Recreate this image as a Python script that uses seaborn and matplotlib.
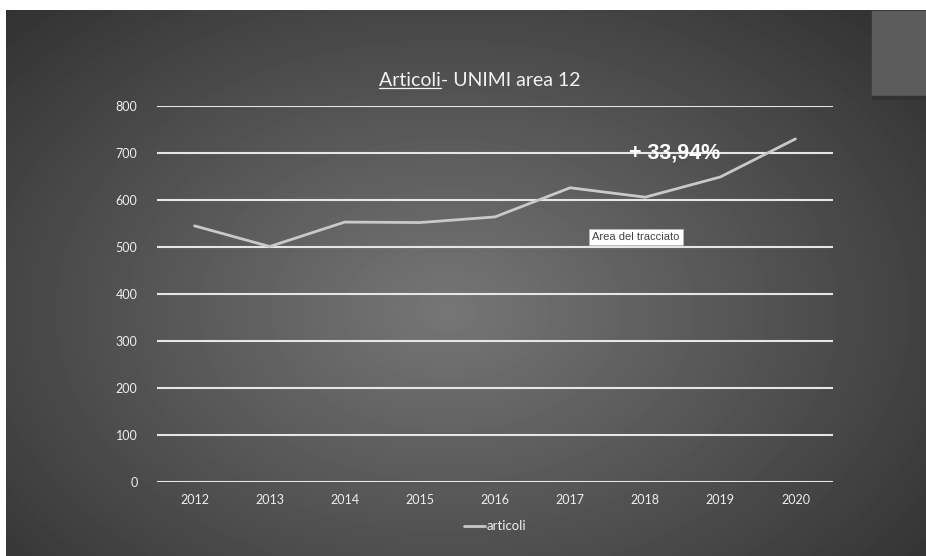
import numpy as np
import pandas as pd
import matplotlib
matplotlib.use("Agg")
import matplotlib.pyplot as plt
import seaborn as sns

years = ["2012", "2013", "2014", "2015", "2016", "2017", "2018", "2019", "2020"]
articoli = [545, 501, 553, 552, 564, 626, 606, 649, 730]
y_ticks = [0, 100, 200, 300, 400, 500, 600, 700, 800]
title_text = "Articoli- UNIMI area 12"
growth_label = "+ 33,94%"
tooltip_label = "Area del tracciato"
series_name = "articoli"

df = pd.DataFrame({"anno": years, series_name: articoli})

sns.set_theme(style="white")
plt.rcParams["font.family"] = ["Lato", "DejaVu Sans"]

W, H = 926, 556
fig = plt.figure(figsize=(W / 100, H / 100), dpi=100)
fig.patch.set_facecolor("white")

# slide background: dark radial gradient inside a thin white frame
bg = fig.add_axes([6 / W, 0, 1 - 6 / W, 1 - 10 / H])
bg.set_axis_off()
yy, xx = np.mgrid[0:546, 0:920]
r = np.sqrt(((xx - 440) / 650.0) ** 2 + ((yy - 300) / 450.0) ** 2)
shade = np.clip(118 - 72 * r, 50, 120) / 255.0
bg.imshow(shade, cmap="gray", vmin=0, vmax=1, aspect="auto", interpolation="bilinear")
bg.add_patch(plt.Rectangle((865, 0), 60, 85, color="#5c5c5c", zorder=3))
bg.add_patch(plt.Rectangle((865, 85), 60, 3, color="#333333", zorder=3))

ax = fig.add_axes([157 / W, (H - 482) / H, 676 / W, 376 / H])
ax.patch.set_alpha(0)
sns.lineplot(data=df, x="anno", y=series_name, ax=ax, color="#c9c9c9",
             linewidth=2.0, label=series_name, sort=False)
ax.set_xlim(-0.5, len(years) - 0.5)
ax.set_ylim(0, 800)
ax.set_yticks(y_ticks)
ax.set_yticklabels([str(v) for v in y_ticks])
for v in y_ticks:
    ax.axhline(v, color="#e6e6e6", linewidth=1.5, zorder=1)
for s in ax.spines.values():
    s.set_visible(False)
ax.set_xlabel("")
ax.set_ylabel("")
ax.tick_params(axis="both", length=0, colors="#eeeeee", labelsize=9)
ax.tick_params(axis="y", pad=14)
ax.tick_params(axis="x", pad=9)

leg = ax.legend(loc="upper center", bbox_to_anchor=(0.5, -0.07), frameon=False,
                fontsize=9.5, handlelength=1.6, handletextpad=0.1)
for t in leg.get_texts():
    t.set_color("#eeeeee")

# title with underlined first word
title = fig.text(480 / W, 1 - 80 / H, title_text, ha="center", va="center",
                 color="#f2f2f2", fontsize=14)
fig.canvas.draw()
rend = fig.canvas.get_renderer()
tb = title.get_window_extent(rend)
tmp = fig.text(0, 0, "Articoli", fontsize=14)
wb = tmp.get_window_extent(rend)
tmp.remove()
fig.add_artist(plt.Line2D([tb.x0 / W, (tb.x0 + wb.width) / W],
                          [(tb.y0 + 1) / H, (tb.y0 + 1) / H],
                          color="#f2f2f2", linewidth=0.9))

fig.text(675 / W, 1 - 153 / H, growth_label, ha="center", va="center",
         color="white", fontsize=15.5, fontweight="bold", family=["Liberation Sans"])

fig.text(636 / W, 1 - 237 / H, tooltip_label, ha="center", va="center",
         color="#444444", fontsize=8, family=["Liberation Sans"],
         bbox=dict(boxstyle="square,pad=0.3", fc="white", ec="#bbbbbb", lw=0.5))

fig.savefig("out.png", dpi=100)
